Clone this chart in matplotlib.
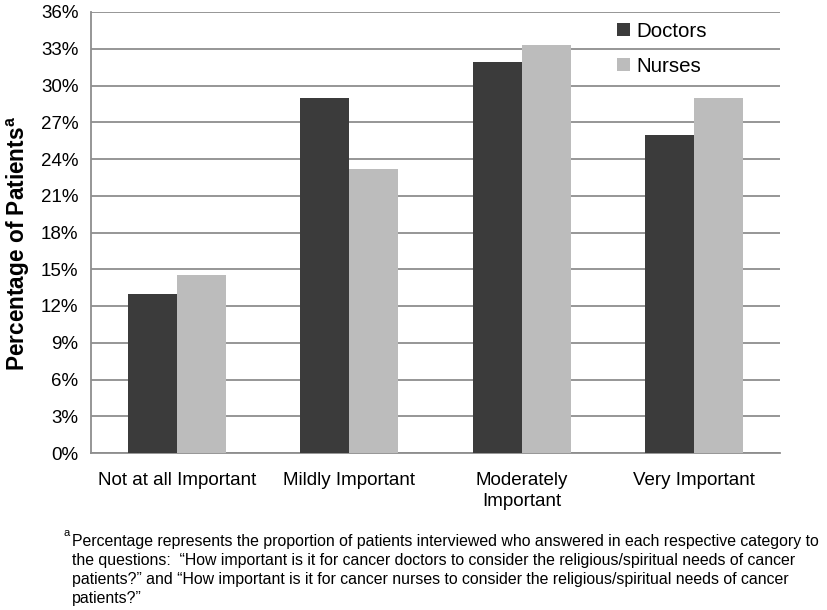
import numpy as np
import matplotlib.pyplot as plt
from matplotlib.ticker import FuncFormatter

categories = ["Not at all Important", "Mildly Important", "Moderately\nImportant", "Very Important"]
doctors = [13.0, 29.0, 31.9, 26.0]
nurses = [14.5, 23.2, 33.3, 29.0]
yticks = [0, 3, 6, 9, 12, 15, 18, 21, 24, 27, 30, 33, 36]

footnote = ("Percentage represents the proportion of patients interviewed who answered in each respective category to\n"
            "the questions:  \u201cHow important is it for cancer doctors to consider the religious/spiritual needs of cancer\n"
            "patients?\u201d and \u201cHow important is it for cancer nurses to consider the religious/spiritual needs of cancer\n"
            "patients?\u201d")

plt.rcParams['font.family'] = ['Liberation Sans', 'DejaVu Sans']

W, H = 827, 610
fig = plt.figure(figsize=(W/100, H/100), dpi=100)
ax = fig.add_axes([91/W, 1 - 453/H, (780-91)/W, (453-12)/H])

x = np.arange(len(categories))
w = 0.285
ax.bar(x - w/2, doctors, w, color="#3b3b3b", label="Doctors", zorder=3)
ax.bar(x + w/2, nurses, w, color="#bcbcbc", label="Nurses", zorder=3)

ax.set_xlim(-0.5, len(categories) - 0.5)
ax.set_ylim(0, 36)
ax.set_yticks(yticks)
ax.yaxis.set_major_formatter(FuncFormatter(lambda v, p: f"{v:.0f}%"))
ax.grid(axis="y", color="#8e8e8e", linewidth=1.3, zorder=0)
ax.tick_params(axis="y", length=0, labelsize=13.5, pad=9)
ax.tick_params(axis="x", length=0, labelsize=13.5, pad=14)
ax.set_xticks(x)
ax.set_xticklabels(categories, linespacing=1.3)

for s in ["top", "right"]:
    ax.spines[s].set_visible(False)
for s in ["left", "bottom"]:
    ax.spines[s].set_color("#8e8e8e")
    ax.spines[s].set_linewidth(1.3)

# y label placed directly so it sits where the reference has it
fig.text(18/W, 1 - 243/H, "Percentage of Patients$^{\\mathregular{a}}$", fontsize=16.3,
         fontweight="bold", rotation=90, ha="center", va="center")

fig.legend(loc="upper left", bbox_to_anchor=(617/W, 1 - 22/H), frameon=False, fontsize=14.8,
           borderpad=0, borderaxespad=0, handlelength=0.62, handleheight=0.62,
           handletextpad=0.32, labelspacing=0.78)

fig.text(63/W, 1 - 536/H, "a", fontsize=8, va="baseline")
fig.text(72/W, 1 - 534/H, footnote, fontsize=11.4, va="top", ha="left", linespacing=1.34)

fig.savefig("out.png", dpi=100)
